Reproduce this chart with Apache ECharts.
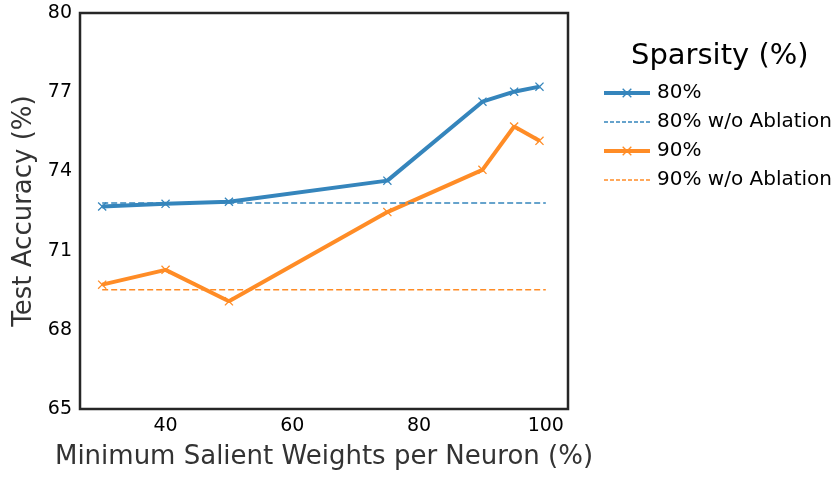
<!DOCTYPE html>
<html>
<head>
<meta charset="utf-8">
<script src="https://cdn.jsdelivr.net/npm/echarts@6/dist/echarts.min.js"></script>
<style>
  html, body { margin: 0; padding: 0; background: #fff; }
  #chart { width: 837px; height: 477px; }
</style>
</head>
<body>
<div id="chart"></div>
<script>
// weights per neuron (%)
var weights = [30, 40, 50, 75, 90, 95, 99];
var acc80 = [72.67, 72.77, 72.85, 73.65, 76.64, 77.02, 77.21];
var acc90 = [69.71, 70.27, 69.08, 72.46, 74.06, 75.7, 75.16];
// baselines without ablation
var baseRange = [30, 100];
var base80 = 72.8;
var base90 = 69.52;
var xTicks = [40, 60, 80, 100];
var yTicks = [65, 68, 71, 74, 77, 80];

var blue = "#3585bc";
var orange = "#ff8c26";
var font = "DejaVu Sans";
var crossIcon = "path://M0,1L1,0L5,4L9,0L10,1L6,5L10,9L9,10L5,6L1,10L0,9L4,5Z";

function pairs(xs, ys) {
  return xs.map(function (x, i) { return [x, ys[i]]; });
}
function flat(xs, v) {
  return xs.map(function (x) { return [x, v]; });
}

var chart = echarts.init(document.getElementById("chart"));
var option = {
  animation: false,
  textStyle: { fontFamily: font },
  title: {
    text: "Sparsity (%)",
    left: 626,
    top: 37,
    textStyle: { fontFamily: font, fontSize: 29, fontWeight: "normal", color: "#000" },
  },
  grid: {
    left: 80,
    right: 269,
    top: 13,
    bottom: 68,
    show: true,
    borderColor: "#262626",
    borderWidth: 2.5,
    backgroundColor: "#fff",
  },
  xAxis: {
    type: "value",
    min: 26.5,
    max: 103.5,
    name: "Minimum Salient Weights per Neuron (%)",
    nameLocation: "middle",
    nameGap: 35,
    nameTextStyle: { fontFamily: font, fontSize: 26, color: "#333" },
    axisLine: { show: false },
    axisTick: { show: false },
    splitLine: { show: false },
    axisLabel: {
      customValues: xTicks,
      margin: 8,
      fontFamily: font,
      fontSize: 19,
      color: "#000",
    },
  },
  yAxis: {
    type: "value",
    min: 65,
    max: 80,
    name: "Test Accuracy (%)",
    nameLocation: "middle",
    nameGap: 42,
    nameTextStyle: { fontFamily: font, fontSize: 26, color: "#333" },
    axisLine: { show: false },
    axisTick: { show: false },
    splitLine: { show: false },
    axisLabel: {
      customValues: yTicks,
      margin: 8,
      fontFamily: font,
      fontSize: 19,
      color: "#000",
    },
  },
  legend: {
    orient: "vertical",
    left: 597,
    top: 78,
    itemWidth: 46,
    itemHeight: 12,
    itemGap: 9,
    textStyle: { fontFamily: font, fontSize: 20, color: "#000", padding: [0, 0, 0, 2] },
    data: [
      { name: "80%", lineStyle: { width: 4 } },
      { name: "80% w/o Ablation", itemStyle: { opacity: 0 }, lineStyle: { width: 1.5, type: [4, 2] } },
      { name: "90%", lineStyle: { width: 4 } },
      { name: "90% w/o Ablation", itemStyle: { opacity: 0 }, lineStyle: { width: 1.5, type: [4, 2] } },
    ],
  },
  series: [
    {
      name: "80%",
      type: "line",
      data: pairs(weights, acc80),
      symbol: crossIcon,
      symbolSize: 9,
      color: blue,
      lineStyle: { width: 4, color: blue },
      itemStyle: { color: blue },
      z: 3,
    },
    {
      name: "80% w/o Ablation",
      type: "line",
      data: flat(baseRange, base80),
      symbol: "none",
      color: blue,
      lineStyle: { width: 1.5, color: blue, type: [6, 3] },
      z: 4,
    },
    {
      name: "90%",
      type: "line",
      data: pairs(weights, acc90),
      symbol: crossIcon,
      symbolSize: 9,
      color: orange,
      lineStyle: { width: 4, color: orange },
      itemStyle: { color: orange },
      z: 3,
    },
    {
      name: "90% w/o Ablation",
      type: "line",
      data: flat(baseRange, base90),
      symbol: "none",
      color: orange,
      lineStyle: { width: 1.5, color: orange, type: [6, 3] },
      z: 4,
    },
  ],
};
chart.setOption(option);
window.addEventListener("resize", chart.resize);
</script>
</body>
</html>
